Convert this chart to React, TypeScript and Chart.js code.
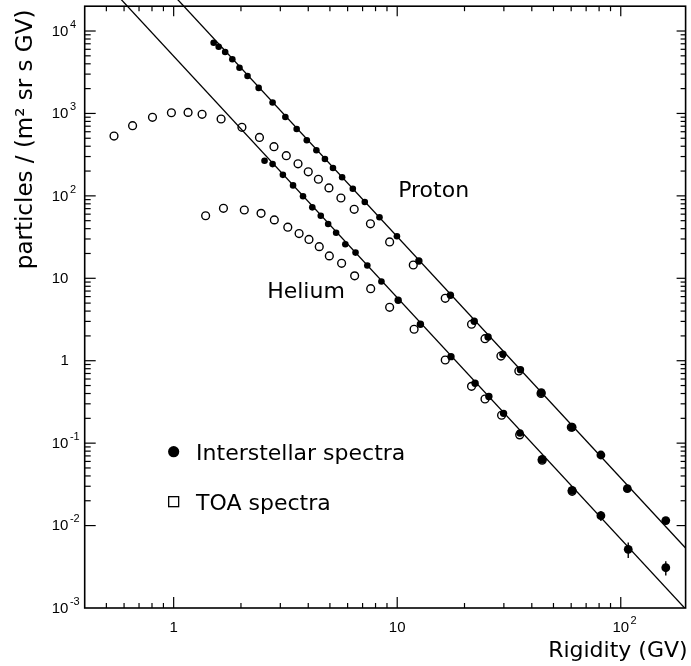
import React, { useEffect, useRef } from "react";
import { Chart, registerables } from "chart.js";

Chart.register(...registerables);

// ---------------- data ----------------
const protonISRigidity = [1.51, 1.59, 1.70, 1.83, 1.97, 2.14, 2.40, 2.77, 3.16, 3.55, 3.94, 4.35, 4.75, 5.16, 5.67, 6.33, 7.16, 8.33, 9.97, 12.5, 17.3, 22.1, 25.5, 29.7, 35.6, 44.1, 60.6, 81.5, 107, 159];
const protonISFlux = [7210, 6450, 5560, 4540, 3590, 2850, 2040, 1360, 905, 647, 472, 357, 280, 218, 168, 122, 84.2, 55.0, 32.3, 16.2, 6.22, 3.01, 1.94, 1.20, 0.778, 0.409, 0.156, 0.0718, 0.0280, 0.0115];
const protonISErr = [0, 0, 0, 0, 0, 0, 0, 0, 0, 0, 0, 0, 0, 0, 0, 0, 0, 0, 0, 0, 0, 0, 0, 0, 0, 0, 0, 0, 0.002, 0.0012];

const protonTOARigidity = [0.541, 0.655, 0.804, 0.977, 1.16, 1.34, 1.63, 2.02, 2.42, 2.81, 3.19, 3.60, 4.00, 4.44, 4.95, 5.60, 6.42, 7.59, 9.25, 11.8, 16.4, 21.5, 24.7, 29.1, 35.0, 44.0, 60.1];
const protonTOAFlux = [532, 710, 898, 1020, 1030, 976, 856, 679, 511, 395, 307, 245, 196, 159, 125, 94.2, 68.7, 45.8, 27.6, 14.5, 5.72, 2.77, 1.85, 1.14, 0.750, 0.400, 0.156];

const heliumISRigidity = [2.55, 2.77, 3.08, 3.42, 3.79, 4.17, 4.55, 4.91, 5.33, 5.86, 6.51, 7.35, 8.50, 10.1, 12.7, 17.4, 22.3, 25.7, 29.9, 35.4, 44.5, 60.6, 81.5, 108, 159];
const heliumISFlux = [267, 243, 180, 134, 98.8, 72.6, 57.4, 45.6, 35.7, 25.9, 20.5, 14.3, 9.14, 5.41, 2.77, 1.12, 0.532, 0.368, 0.230, 0.133, 0.0637, 0.0268, 0.0132, 0.00515, 0.00308];
const heliumISErr = [0, 0, 0, 0, 0, 0, 0, 0, 0, 0, 0, 0, 0, 0, 0, 0, 0, 0, 0, 0, 0, 0, 0.0018, 0.0011, 0.0006];

const heliumTOARigidity = [1.39, 1.67, 2.07, 2.46, 2.82, 3.24, 3.64, 4.03, 4.48, 4.97, 5.64, 6.45, 7.61, 9.25, 11.9, 16.4, 21.5, 24.7, 29.3, 35.3, 44.5, 60.6];
const heliumTOAFlux = [57.4, 70.7, 67.4, 61.4, 51.1, 41.7, 34.9, 29.6, 24.2, 18.7, 15.2, 10.7, 7.48, 4.45, 2.41, 1.02, 0.489, 0.343, 0.218, 0.126, 0.062, 0.026];

// power-law fit lines (two end points each)
const protonFitRigidity = [0.9, 200];
const protonFitFlux = [37000, 0.00495];
const heliumFitRigidity = [0.5, 200];
const heliumFitFlux = [37700, 0.000902];

// axes / text
const xTickValues = [1, 10, 100];
const xTickLabels = ["1", "10", "10^2"];
const yTickValues = [1e-3, 1e-2, 1e-1, 1, 10, 100, 1e3, 1e4];
const yTickLabels = ["10^-3", "10^-2", "10^-1", "1", "10", "10^2", "10^3", "10^4"];
const xTitle = "Rigidity (GV)";
const yTitle = "particles / (m\u00B2 sr s GV)";
const legendLabels = ["Interstellar spectra", "TOA spectra"];
const seriesLabels = ["Proton", "Helium"];
// label anchors in data coordinates
const seriesLabelX = [10.1, 2.62];
const seriesLabelY = [97, 5.77];
const legendMarkerX = 1.0;
const legendTextX = 1.26;
const legendMarkerY = [0.0787, 0.0195];
const legendTextY = [0.0624, 0.01545];

const X_MIN = 0.4;
const X_MAX = 195;
const Y_MIN = 1e-3;
const Y_MAX = 2e4;

const TEXT_FONT = '"DejaVu Sans", "Liberation Sans", sans-serif';
const TICK_FONT = '"Liberation Sans", Arial, sans-serif';

function pts(xs: number[], ys: number[]) {
  return xs.map((x, i) => ({ x, y: ys[i] }));
}

function drawPow(ctx: CanvasRenderingContext2D, label: string, x: number, y: number, align: "left" | "center", size: number) {
  const parts = label.split("^");
  const base = parts[0];
  const exp = parts[1];
  ctx.font = `${size}px ${TICK_FONT}`;
  ctx.textBaseline = "middle";
  ctx.textAlign = "left";
  const bw = ctx.measureText(base).width;
  const x0 = align === "left" ? x : x - bw / 2;
  ctx.fillText(base, x0, y);
  if (exp) {
    ctx.font = `${Math.round(size * 0.75)}px ${TICK_FONT}`;
    ctx.fillText(exp, x0 + bw + 1.5, y - size * 0.45);
  }
}

const decorPlugin = {
  id: "decor",
  afterDatasetsDraw(chart: any) {
    const ctx: CanvasRenderingContext2D = chart.ctx;
    const xs = chart.scales.x;
    const ys = chart.scales.y;
    ctx.save();
    ctx.strokeStyle = "#000";
    ctx.lineWidth = 1.4;
    const drawErr = (R: number[], F: number[], E: number[]) => {
      R.forEach((r, i) => {
        if (!E[i]) return;
        const px = xs.getPixelForValue(r);
        ctx.beginPath();
        ctx.moveTo(px, ys.getPixelForValue(F[i] - E[i]));
        ctx.lineTo(px, ys.getPixelForValue(F[i] + E[i]));
        ctx.stroke();
      });
    };
    drawErr(protonISRigidity, protonISFlux, protonISErr);
    drawErr(heliumISRigidity, heliumISFlux, heliumISErr);
    ctx.restore();
  },
  afterDraw(chart: any) {
    const ctx: CanvasRenderingContext2D = chart.ctx;
    const xs = chart.scales.x;
    const ys = chart.scales.y;
    const { left, right, top, bottom } = chart.chartArea;
    ctx.save();
    ctx.strokeStyle = "#000";
    ctx.fillStyle = "#000";

    // frame
    ctx.lineWidth = 1.6;
    ctx.strokeRect(left, top, right - left, bottom - top);

    // ticks
    ctx.lineWidth = 1.2;
    const line = (x1: number, y1: number, x2: number, y2: number) => {
      ctx.beginPath();
      ctx.moveTo(x1, y1);
      ctx.lineTo(x2, y2);
      ctx.stroke();
    };
    for (let d = -2; d <= 5; d++) {
      for (let m = 1; m <= 9; m++) {
        const v = m * Math.pow(10, d);
        const major = m === 1;
        if (v > X_MIN * 1.0001 && v < X_MAX * 0.9999) {
          const px = xs.getPixelForValue(v);
          line(px, bottom, px, bottom - (major ? 11 : 5));
          line(px, top, px, top + (major ? 10 : 5));
        }
        if (v > Y_MIN * 1.0001 && v < Y_MAX * 0.9999) {
          const py = ys.getPixelForValue(v);
          line(left, py, left + (major ? 11 : 6), py);
          line(right, py, right - (major ? 9 : 5), py);
        }
      }
    }

    // tick labels
    xTickValues.forEach((v, i) => {
      drawPow(ctx, xTickLabels[i], xs.getPixelForValue(v), bottom + 20, "center", 15);
    });
    yTickValues.forEach((v, i) => {
      const lab = yTickLabels[i];
      const py = ys.getPixelForValue(v);
      if (lab.startsWith("10")) drawPow(ctx, lab, left - 33, py + 0.5, "left", 15);
      else drawPow(ctx, lab, left - 20, py + 0.5, "center", 15);
    });

    // axis titles
    ctx.font = `22px ${TEXT_FONT}`;
    ctx.textBaseline = "alphabetic";
    ctx.textAlign = "right";
    ctx.fillText(xTitle, right + 2, bottom + 49);

    ctx.save();
    ctx.translate(left - 53, top + 263);
    ctx.rotate(-Math.PI / 2);
    ctx.textAlign = "left";
    ctx.font = `23px ${TEXT_FONT}`;
    ctx.fillText(yTitle, 0, 0);
    ctx.restore();

    // series labels
    ctx.font = `22px ${TEXT_FONT}`;
    ctx.textAlign = "left";
    seriesLabels.forEach((s, i) => {
      ctx.fillText(s, xs.getPixelForValue(seriesLabelX[i]), ys.getPixelForValue(seriesLabelY[i]));
    });

    // legend
    const mx = xs.getPixelForValue(legendMarkerX);
    ctx.beginPath();
    ctx.arc(mx, ys.getPixelForValue(legendMarkerY[0]), 5.6, 0, Math.PI * 2);
    ctx.fill();
    ctx.lineWidth = 1.3;
    const sy = ys.getPixelForValue(legendMarkerY[1]);
    ctx.strokeRect(mx - 5, sy - 5, 10, 10);
    legendLabels.forEach((s, i) => {
      ctx.fillText(s, xs.getPixelForValue(legendTextX), ys.getPixelForValue(legendTextY[i]));
    });

    ctx.restore();
  },
};

export default function App() {
  const ref = useRef<HTMLCanvasElement | null>(null);
  useEffect(() => {
    if (!ref.current) return;
    const isRadius = (c: any) => {
      const x = c.raw ? c.raw.x : 1;
      return x > 40 ? 4.4 : x > 10 ? 3.7 : 3.3;
    };
    const chart = new Chart(ref.current, {
      type: "scatter",
      data: {
        datasets: [
          {
            label: "Proton interstellar",
            data: pts(protonISRigidity, protonISFlux),
            pointStyle: "circle",
            pointRadius: isRadius,
            backgroundColor: "#000",
            borderColor: "#000",
            borderWidth: 0,
          },
          {
            label: "Helium interstellar",
            data: pts(heliumISRigidity, heliumISFlux),
            pointStyle: "circle",
            pointRadius: isRadius,
            backgroundColor: "#000",
            borderColor: "#000",
            borderWidth: 0,
          },
          {
            label: "Proton TOA",
            data: pts(protonTOARigidity, protonTOAFlux),
            pointStyle: "circle",
            pointRadius: 3.9,
            backgroundColor: "rgba(0,0,0,0)",
            borderColor: "#000",
            borderWidth: 1.4,
          },
          {
            label: "Helium TOA",
            data: pts(heliumTOARigidity, heliumTOAFlux),
            pointStyle: "circle",
            pointRadius: 3.9,
            backgroundColor: "rgba(0,0,0,0)",
            borderColor: "#000",
            borderWidth: 1.4,
          },
          {
            label: "Proton fit",
            type: "line",
            data: pts(protonFitRigidity, protonFitFlux),
            showLine: true,
            pointRadius: 0,
            borderColor: "#000",
            borderWidth: 1.3,
            fill: false,
            tension: 0,
            clip: { left: 0, top: 8, right: 0, bottom: 0 },
          } as any,
          {
            label: "Helium fit",
            type: "line",
            data: pts(heliumFitRigidity, heliumFitFlux),
            showLine: true,
            pointRadius: 0,
            borderColor: "#000",
            borderWidth: 1.3,
            fill: false,
            tension: 0,
            clip: { left: 0, top: 8, right: 0, bottom: 0 },
          } as any,
        ],
      },
      options: {
        animation: false,
        responsive: false,
        devicePixelRatio: 1,
        layout: { padding: { left: 84.7, top: 6.2, right: 3, bottom: 58 } },
        plugins: { legend: { display: false }, tooltip: { enabled: false } },
        scales: {
          x: { type: "logarithmic", min: X_MIN, max: X_MAX, display: false },
          y: { type: "logarithmic", min: Y_MIN, max: Y_MAX, display: false },
        },
      },
      plugins: [decorPlugin],
    });
    return () => chart.destroy();
  }, []);

  return (
    <div style={{ position: "fixed", left: 0, top: 0, width: 691, height: 666, background: "#fff" }}>
      <canvas ref={ref} width={691} height={666} style={{ display: "block" }} />
    </div>
  );
}
